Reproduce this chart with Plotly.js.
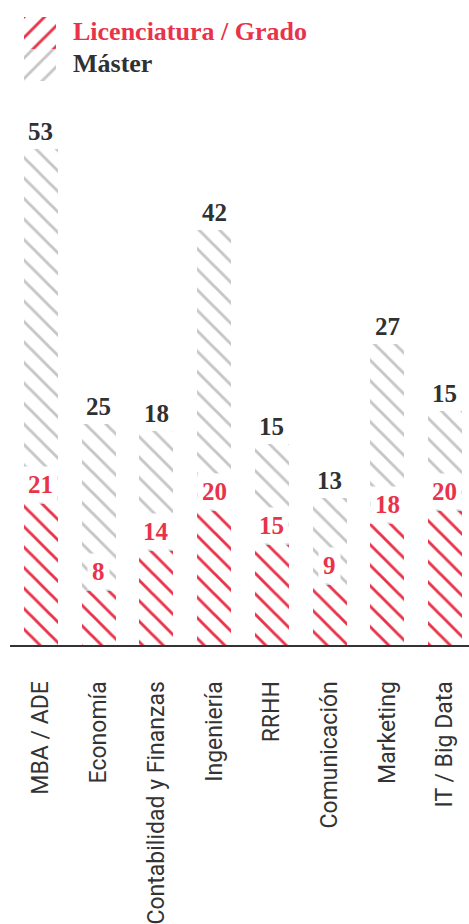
<!DOCTYPE html>
<html>
<head>
<meta charset="utf-8">
<script src="https://cdn.plot.ly/plotly-3.0.1.min.js"></script>
<style>html,body{margin:0;padding:0;background:#fff;}#chart{width:469px;height:924px;}</style>
</head>
<body>
<div id="chart"></div>
<script>
// ---- data ----
var categories = ['MBA / ADE', 'Economía', 'Contabilidad y Finanzas', 'Ingeniería', 'RRHH', 'Comunicación', 'Marketing', 'IT / Big Data'];
var grado = [21, 8, 14, 20, 15, 9, 18, 20];
var master = [53, 25, 18, 42, 15, 13, 27, 15];
var seriesNames = ['Licenciatura / Grado', 'Máster'];

// ---- styles ----
var RED = '#E8334A';
var GREY = '#C6C6C6';
var DARK = '#2F3133';
var serif = 'Liberation Serif, Times New Roman, serif';

function pat(color, shape) {
  return { color: color, line: { width: 0 }, pattern: { shape: shape, bgcolor: '#ffffff', size: 14.5, solidity: 0.2 } };
}

var traces = [
  { type: 'bar', x: categories, y: grado, name: seriesNames[0], width: 0.59, marker: pat(RED, '\\'), showlegend: false, hoverinfo: 'skip' },
  { type: 'bar', x: categories, y: master, name: seriesNames[1], width: 0.59, marker: pat(GREY, '\\'), showlegend: false, hoverinfo: 'skip' },
  // legend swatches
  { type: 'bar', orientation: 'h', x: [1], y: [seriesNames[0]], xaxis: 'x2', yaxis: 'y2', width: 1, marker: pat(RED, '/'), showlegend: false, hoverinfo: 'skip' },
  { type: 'bar', orientation: 'h', x: [1], y: [seriesNames[1]], xaxis: 'x2', yaxis: 'y2', width: 1, marker: pat(GREY, '/'), showlegend: false, hoverinfo: 'skip' }
];

var annotations = [];
categories.forEach(function (c, i) {
  annotations.push({
    x: c, y: grado[i] + master[i], xref: 'x', yref: 'y', text: String(master[i]),
    showarrow: false, yanchor: 'bottom', yshift: 2,
    font: { family: serif, size: 25, color: DARK, weight: 'bold' }
  });
  annotations.push({
    x: c, y: grado[i], xref: 'x', yref: 'y', text: String(grado[i]),
    showarrow: false, yanchor: 'bottom', yshift: 1, bgcolor: '#ffffff', borderpad: 4,
    font: { family: serif, size: 25, color: RED, weight: 'bold' }
  });
});
var legendColors = [RED, DARK];
seriesNames.forEach(function (n, i) {
  annotations.push({
    x: 0.133, y: i, xref: 'paper', yref: 'y2', text: n, showarrow: false,
    xanchor: 'left', yanchor: 'middle', yshift: 2,
    font: { family: serif, size: 26, color: legendColors[i], weight: 'bold' }
  });
});

var layout = {
  width: 469, height: 924,
  margin: { l: 10, r: 0, t: 0, b: 279 },
  paper_bgcolor: '#ffffff', plot_bgcolor: '#ffffff',
  barmode: 'stack',
  showlegend: false,
  xaxis: {
    type: 'category', range: [-0.537, 7.416], fixedrange: true,
    showline: true, linecolor: '#333333', linewidth: 2,
    ticks: 'outside', ticklen: 25, tickcolor: 'rgba(0,0,0,0)',
    tickangle: -90, showgrid: false, zeroline: false,
    tickfont: { family: 'Roboto, Liberation Sans, Arial, sans-serif', size: 23, color: '#333333' }
  },
  yaxis: { range: [0, 96.27], visible: false, showgrid: false, zeroline: false, fixedrange: true },
  xaxis2: { domain: [0.0305, 0.1002], range: [0, 1], visible: false, anchor: 'y2', fixedrange: true },
  yaxis2: { domain: [0.8744, 0.9736], type: 'category', range: [1.5, -0.5], visible: false, anchor: 'x2', fixedrange: true },
  annotations: annotations
};

Plotly.newPlot('chart', traces, layout, { displayModeBar: false, staticPlot: true });
</script>
</body>
</html>
